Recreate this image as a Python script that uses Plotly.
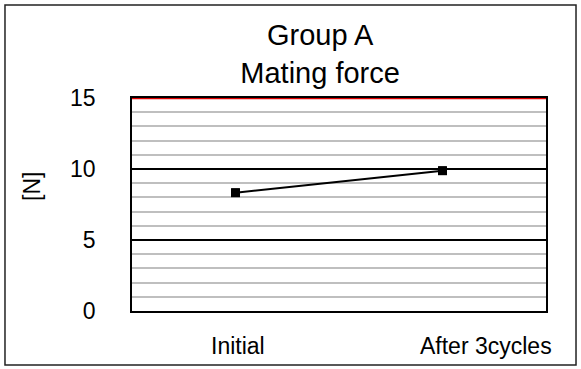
import plotly.graph_objects as go

categories = ["Initial", "After 3cycles"]
mating_force = [8.33, 9.88]
error_values = [0.25, 0.25]
limit_value = 15
title_lines = ["Group A", "Mating force"]
y_title = "[N]"

FONT = "Liberation Sans, Arial, sans-serif"

fig = go.Figure()
fig.add_trace(go.Scatter(
    x=categories, y=mating_force, mode="lines+markers",
    line=dict(color="black", width=2),
    marker=dict(symbol="square", size=9, color="black"),
    error_y=dict(type="data", array=error_values, color="black", thickness=1.5, width=4),
    showlegend=False,
))

fig.add_shape(type="line", xref="paper", yref="y", x0=0, x1=1, y0=limit_value, y1=limit_value,
              line=dict(color="#e00000", width=2.5))
# outer chart border
fig.add_shape(type="rect", xref="paper", yref="paper", x0=-0.3068, x1=1.0725, y0=-0.2535, y1=1.4366,
              line=dict(color="#222222", width=1.5))

for c in categories:
    fig.add_annotation(x=c, xref="x", y=0, yref="paper", yanchor="top", yshift=-20,
                       text=c, showarrow=False, font=dict(family=FONT, size=23, color="black"),
                       xshift=(43 if c == categories[1] else 2))

fig.add_annotation(x=-0.278, xref="paper", y=0.587, yref="paper", text=y_title, textangle=-90,
                   showarrow=False, font=dict(family=FONT, size=23, color="black"))

fig.update_layout(
    width=581, height=369,
    margin=dict(l=132, r=35, t=98, b=58),
    paper_bgcolor="white", plot_bgcolor="white",
    title=dict(text="<br>".join(title_lines), xref="container", x=0.551, xanchor="center",
               yref="container", y=0.877, yanchor="top",
               font=dict(family=FONT, size=29, color="black")),
    font=dict(family=FONT, size=23, color="black"),
    xaxis=dict(range=[-0.5, 1.5], showticklabels=False, showgrid=False, zeroline=False,
               showline=True, linecolor="black", linewidth=1.5, mirror=True, ticks=""),
    yaxis=dict(range=[0, 15], tickvals=[0, 5, 10, 15], showgrid=True, gridcolor="black", gridwidth=1.5,
               zeroline=False, showline=True, linecolor="black", linewidth=1.5, mirror=True,
               ticks="", ticklabelstandoff=30,
               minor=dict(dtick=1, showgrid=True, gridcolor="#bfbfbf", gridwidth=1.5)),
)

fig.write_html("out.html", config={"displayModeBar": False},
               post_script="document.body.style.margin='0';")
